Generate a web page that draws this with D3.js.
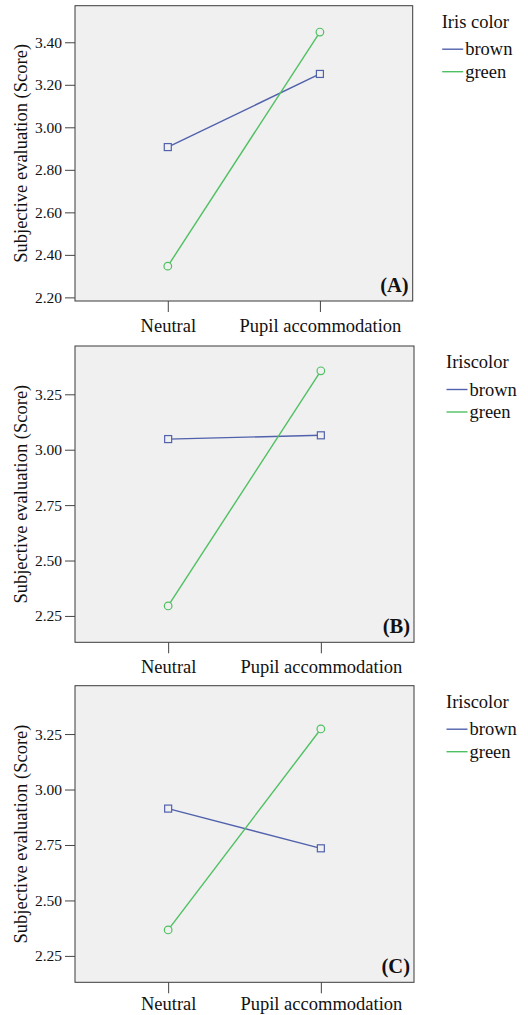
<!DOCTYPE html>
<html>
<head>
<meta charset="utf-8">
<script src="https://cdn.jsdelivr.net/npm/d3@7"></script>
<style>
  body { margin: 0; background: #fff; }
  text { font-family: "Liberation Serif", "Times New Roman", serif; fill: #111; }
</style>
</head>
<body>
<svg id="chart" width="528" height="1015"></svg>
<script>
// conditions on the x axis
var conditions = ["Neutral", "Pupil accommodation"];
var seriesNames = ["brown", "green"];
var seriesColors = ["#5161ac", "#4fc061"];

// panel A
var brownA = [2.907, 3.251];
var greenA = [2.347, 3.448];
var ticksA = [2.20, 2.40, 2.60, 2.80, 3.00, 3.20, 3.40];
// panel B
var brownB = [3.048, 3.065];
var greenB = [2.295, 3.356];
var ticksB = [2.25, 2.50, 2.75, 3.00, 3.25];
// panel C
var brownC = [2.914, 2.735];
var greenC = [2.367, 3.273];
var ticksC = [2.25, 2.50, 2.75, 3.00, 3.25];

var legendTitles = ["Iris color", "Iriscolor", "Iriscolor"];
var panelLabels = ["(A)", "(B)", "(C)"];

var panels = [
  {brown: brownA, green: greenA, ticks: ticksA, domain: [2.183, 3.572], top: 5.7, bottom: 301, right: 412.7, legendX: 441.7, labelPad: 7},
  {brown: brownB, green: greenB, ticks: ticksB, domain: [2.131, 3.468], top: 346, bottom: 642.3, right: 414, legendX: 446, labelPad: 7},
  {brown: brownC, green: greenC, ticks: ticksC, domain: [2.131, 3.468], top: 685.7, bottom: 982.3, right: 414, legendX: 446, labelPad: 4}
];

var svg = d3.select('#chart');
var left = 75;

panels.forEach(function(p, i){
  var g = svg.append('g');

  var x = d3.scalePoint().domain(conditions).range([left, p.right]).padding(0.61);
  var y = d3.scaleLinear().domain(p.domain).range([p.bottom, p.top]);

  // plot background
  g.append('rect')
    .attr('x', left).attr('y', p.top)
    .attr('width', p.right - left).attr('height', p.bottom - p.top)
    .attr('fill', '#f0f0f0')
    .attr('stroke', '#3a3a3a').attr('stroke-width', 1);

  var yAxis = g.append('g')
    .attr('transform', 'translate(' + left + ',0)')
    .call(d3.axisLeft(y).tickValues(p.ticks).tickFormat(d3.format('.2f')).tickSize(10).tickPadding(3));
  yAxis.attr('font-family', null);
  yAxis.select('.domain').remove();
  yAxis.selectAll('line').attr('stroke', '#444');
  yAxis.selectAll('text')
    .style('font-family', '"Liberation Serif", serif')
    .style('font-size', '15.5px').attr('fill', '#111');

  var xAxis = g.append('g')
    .attr('transform', 'translate(0,' + p.bottom + ')')
    .call(d3.axisBottom(x).tickSize(11).tickPadding(p.labelPad));
  xAxis.attr('font-family', null);
  xAxis.select('.domain').remove();
  xAxis.selectAll('line').attr('stroke', '#444');
  xAxis.selectAll('text')
    .style('font-family', '"Liberation Serif", serif')
    .style('font-size', '18.5px').attr('fill', '#111');

  // y axis title
  g.append('text')
    .attr('transform', 'translate(27,' + ((p.top + p.bottom) / 2) + ') rotate(-90)')
    .attr('text-anchor', 'middle')
    .style('font-size', '18.5px')
    .text('Subjective evaluation (Score)');

  // series lines
  var line = d3.line()
    .x(function(d, j){ return x(conditions[j]); })
    .y(function(d){ return y(d); });

  [p.brown, p.green].forEach(function(vals, s){
    g.append('path')
      .datum(vals)
      .attr('d', line)
      .attr('fill', 'none')
      .attr('stroke', seriesColors[s])
      .attr('stroke-width', 1.4);

    if (s === 0) {
      g.selectAll('.sq' + i)
        .data(vals).enter().append('rect')
        .attr('x', function(d, j){ return x(conditions[j]) - 3.5; })
        .attr('y', function(d){ return y(d) - 3.5; })
        .attr('width', 7).attr('height', 7)
        .attr('fill', '#f0f0f0')
        .attr('stroke', seriesColors[s]).attr('stroke-width', 1.2);
    } else {
      g.selectAll('.ci' + i)
        .data(vals).enter().append('circle')
        .attr('cx', function(d, j){ return x(conditions[j]); })
        .attr('cy', function(d){ return y(d); })
        .attr('r', 3.8)
        .attr('fill', '#f0f0f0')
        .attr('stroke', seriesColors[s]).attr('stroke-width', 1.2);
    }
  });

  // panel label
  g.append('text')
    .attr('x', p.right - 4).attr('y', p.bottom - 9)
    .attr('text-anchor', 'end')
    .style('font-size', '20.5px').style('font-weight', 'bold')
    .text(panelLabels[i]);

  // legend
  var lg = g.append('g');
  lg.append('text')
    .attr('x', p.legendX).attr('y', p.top + 22)
    .style('font-size', '18.5px')
    .text(legendTitles[i]);
  seriesNames.forEach(function(name, s){
    var ly = p.top + 43.5 + s * 22.5;
    lg.append('line')
      .attr('x1', p.legendX + 0.5).attr('x2', p.legendX + 21.5)
      .attr('y1', ly).attr('y2', ly)
      .attr('stroke', seriesColors[s]).attr('stroke-width', 1.4);
    lg.append('text')
      .attr('x', p.legendX + 23.5).attr('y', ly + 6)
      .style('font-size', '18.5px')
      .text(name);
  });
});
</script>
</body>
</html>
